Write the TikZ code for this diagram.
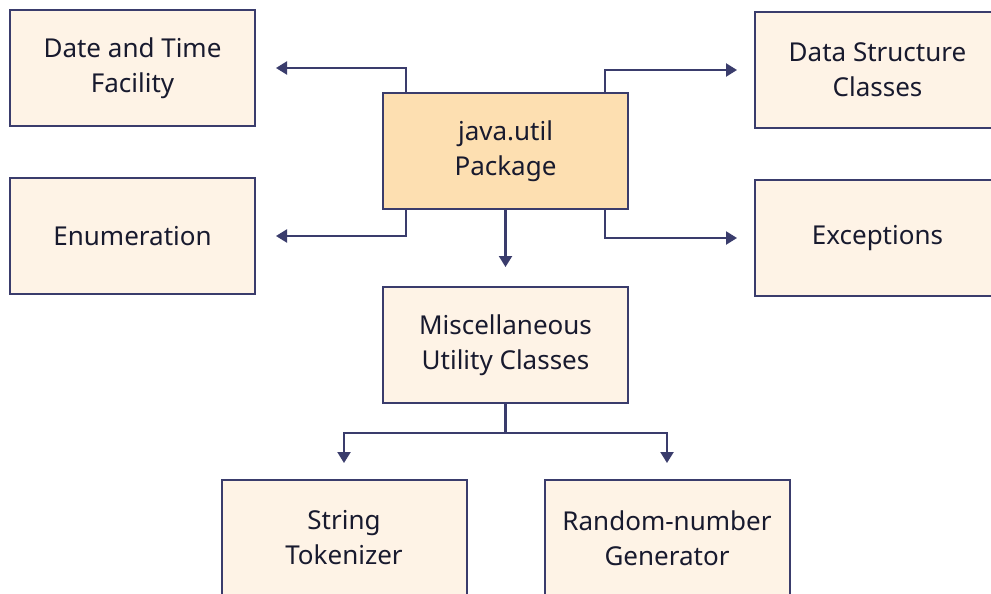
\documentclass[tikz,border=0pt]{standalone}
\usepackage{fontspec}
\setmainfont{Noto Sans}
\usetikzlibrary{arrows.meta}
\definecolor{boxfill}{HTML}{FEF3E6}
\definecolor{mainfill}{HTML}{FDDFB1}
\definecolor{edge}{HTML}{3A3C6C}
\definecolor{txt}{HTML}{181A2E}
\tikzset{
  x=1pt, y=-1pt,
  box/.style={draw=edge, line width=2pt, fill=boxfill, minimum width=245pt, minimum height=116pt,
    align=center, text=txt, inner sep=0pt,
    font=\fontsize{26pt}{35pt}\selectfont},
  mainbox/.style={box, fill=mainfill},
  arr/.style={draw=edge, line width=2.2pt, -{Triangle[width=13pt,length=11pt]}},
}
\begin{document}
\begin{tikzpicture}
\useasboundingbox (0,0) rectangle (991,594);
\clip (0,0) rectangle (991,594);
\fill[white] (0,0) rectangle (991,594);
\node[box] (date) at (132.5,68) {Date and Time\\Facility};
\node[box] (enum) at (132.5,236) {Enumeration};
\node[mainbox] (main) at (505.5,151) {java.util\\Package};
\node[box] (data) at (877.5,70) {Data Structure\\Classes};
\node[box] (exc) at (877.5,238) {Exceptions};
\node[box] (misc) at (505.5,345) {Miscellaneous\\Utility Classes};
\node[box] (str) at (344,538) {String\\Tokenizer};
\node[box] (rand) at (667,538) {Random-number\\Generator};
\draw[arr, shorten >=20pt] ([xshift=24pt]main.north west) |- (date.east);
\draw[arr, shorten >=17pt] ([xshift=-24pt]main.north east) |- (data.west);
\draw[arr, shorten >=20pt] ([xshift=24pt]main.south west) |- (enum.east);
\draw[arr, shorten >=17pt] ([xshift=-24pt]main.south east) |- (exc.west);
\draw[arr, shorten >=19pt] (main.south) -- (misc.north);
\coordinate (split) at ([yshift=-29pt]misc.south);
\draw[arr, shorten >=16pt] (misc.south) -- (split) -| (str.north);
\draw[arr, shorten >=16pt] (split) -| (rand.north);
\end{tikzpicture}
\end{document}
